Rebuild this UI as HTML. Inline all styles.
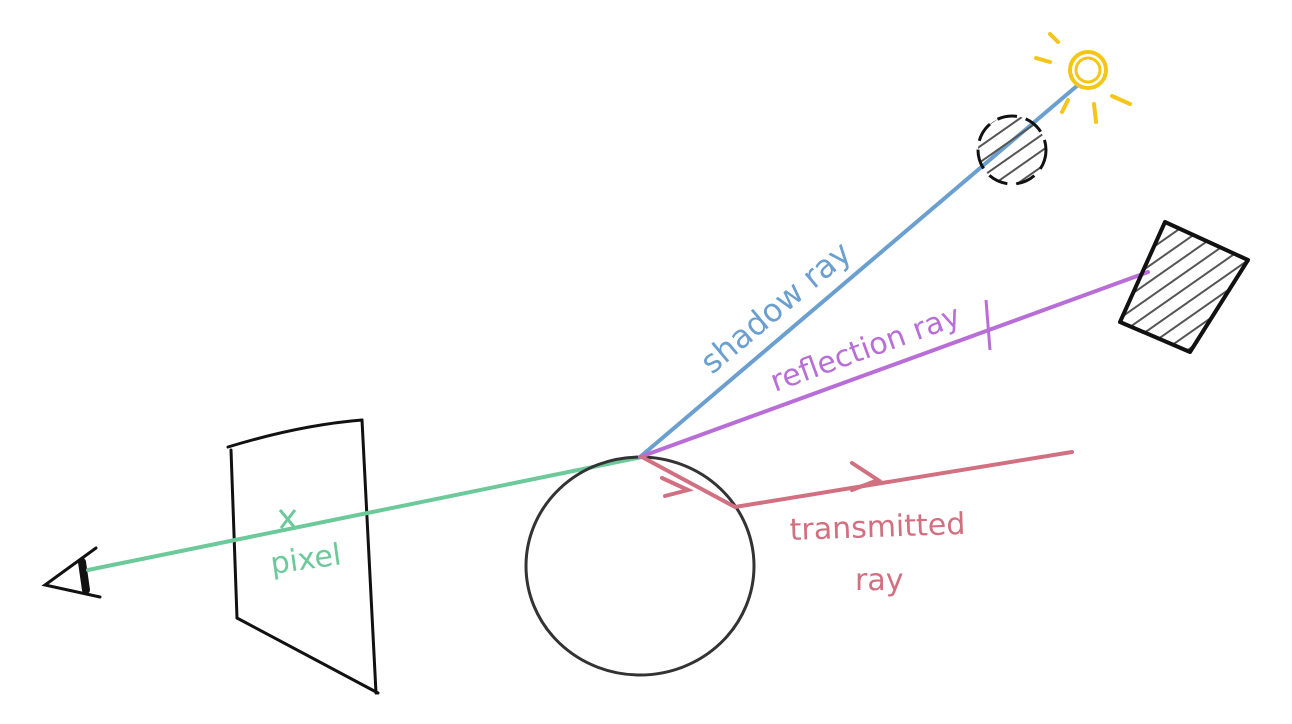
<!DOCTYPE html>
<html><head><meta charset="utf-8"><style>
html,body{margin:0;padding:0;background:#fff;}
svg{display:block;}
text{font-family:"DejaVu Sans","Liberation Sans",sans-serif;}
</style></head><body>
<svg width="1292" height="724" viewBox="0 0 1292 724">
<defs>
<pattern id="hatch" patternUnits="userSpaceOnUse" width="13" height="13" patternTransform="rotate(-35)">
<line x1="0" y1="6" x2="13" y2="6" stroke="#555" stroke-width="2"/>
</pattern>
</defs>
<g stroke="#111" stroke-width="3" fill="none" stroke-linecap="round">
<path d="M96,548 L45,585 L100,597"/>
<path d="M82,562 L86,590" stroke-width="8"/>
</g>
<g stroke="#111" stroke-width="3" fill="none" stroke-linecap="round">
<path d="M228,447 Q300,425 362,420"/>
<path d="M231,450 L237,618"/>
<path d="M237,618 L378,693"/>
<path d="M362,420 L376,693"/>
</g>
<line x1="88" y1="570" x2="642" y2="457" stroke="#6cc99a" stroke-width="4" stroke-linecap="round"/>
<g stroke="#6cc99a" stroke-width="3">
<line x1="280" y1="510" x2="295" y2="528"/><line x1="295" y1="510" x2="281" y2="528"/>
</g>
<text x="272" y="574" font-size="30" fill="#6cc99a" transform="rotate(-8 272 574)">pixel</text>
<ellipse cx="640" cy="566" rx="114" ry="109" fill="none" stroke="#333" stroke-width="3"/>
<line x1="640" y1="457" x2="1078" y2="85" stroke="#6a9fcf" stroke-width="4" stroke-linecap="round"/>
<text x="712" y="375" font-size="32" fill="#6a9fcf" transform="rotate(-40 712 375)">shadow ray</text>
<g stroke="#f5c518" stroke-width="4" fill="none" stroke-linecap="round">
<circle cx="1088" cy="70" r="18"/><circle cx="1088" cy="70" r="12" stroke-width="3"/>
<line x1="1036" y1="58" x2="1050" y2="62"/><line x1="1050" y1="34" x2="1058" y2="42"/>
<line x1="1068" y1="100" x2="1062" y2="112"/><line x1="1094" y1="104" x2="1096" y2="122"/>
<line x1="1112" y1="96" x2="1130" y2="104"/>
</g>
<g>
<circle cx="1012" cy="150" r="34" fill="url(#hatch)"/>
<circle cx="1012" cy="150" r="34" fill="none" stroke="#111" stroke-width="3" stroke-dasharray="20 9"/>
</g>
<line x1="640" y1="457" x2="1148" y2="272" stroke="#b86ed6" stroke-width="4" stroke-linecap="round"/>
<line x1="986" y1="300" x2="990" y2="350" stroke="#b86ed6" stroke-width="3"/>
<text x="775" y="392" font-size="30" fill="#b86ed6" transform="rotate(-20 775 392)">reflection ray</text>
<polygon points="1165,222 1248,260 1190,352 1120,322" fill="url(#hatch)" stroke="#111" stroke-width="4" stroke-linejoin="round"/>
<g stroke="#d07080" stroke-width="4" fill="none" stroke-linecap="round">
<path d="M642,457 L735,507 L1072,452"/>
<path d="M662,478 L688,490 L665,496"/>
<path d="M852,463 L878,480 L852,490"/>
</g>
<text x="790" y="540" font-size="30" fill="#d07080" transform="rotate(-2 790 540)">transmitted</text>
<text x="855" y="590" font-size="30" fill="#d07080">ray</text>
</svg>
</body></html>
